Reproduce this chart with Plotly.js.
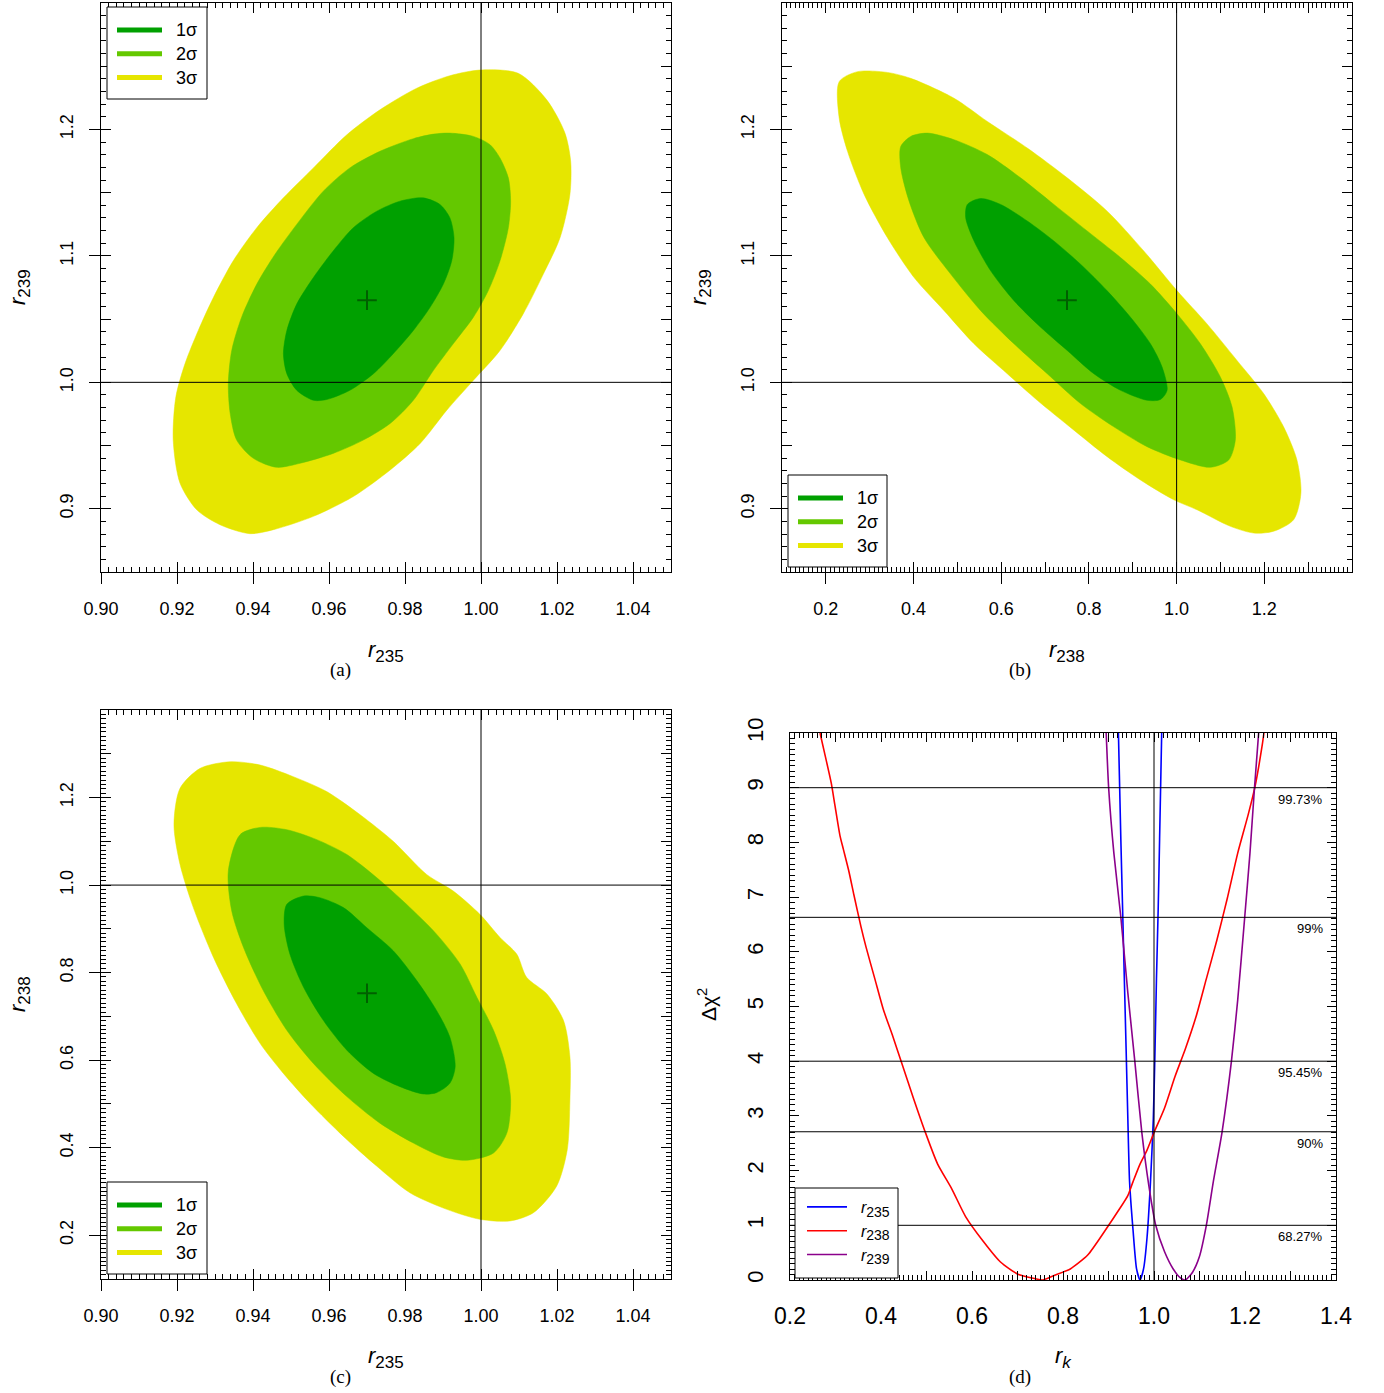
<!DOCTYPE html>
<html>
<head>
<meta charset="utf-8">
<script src="https://cdn.plot.ly/plotly-3.0.1.min.js"></script>
<style>html,body{margin:0;padding:0;background:#fff}#chart{width:1384px;height:1393px}</style>
</head>
<body>
<div id="chart"></div>
<script>
// ---------------- DATA ----------------
// Panel (a): r235 vs r239 confidence regions
const aX3 = [0.9997,1.0098,1.0173,1.0221,1.0236,1.0234,1.0208,1.0164,1.0111,1.0050,0.9980,0.9910,0.9840,0.9761,0.9664,0.9559,0.9454,0.9392,0.9313,0.9252,0.9208,0.9190,0.9197,0.9221,0.9256,0.9296,0.9348,0.9410,0.9480,0.9559,0.9647,0.9734,0.9831,0.9918,0.9997];
const aY3 = [1.2470,1.2444,1.2234,1.1971,1.1748,1.1486,1.1144,1.0856,1.0541,1.0252,1.0016,0.9780,0.9517,0.9307,0.9097,0.8940,0.8835,0.8803,0.8874,0.8992,0.9202,0.9543,0.9885,1.0147,1.0410,1.0672,1.0961,1.1223,1.1459,1.1696,1.1958,1.2155,1.2326,1.2425,1.2470];
const aX2 = [0.9918,0.9980,1.0024,1.0050,1.0072,1.0078,1.0072,1.0050,1.0019,0.9980,0.9927,0.9875,0.9822,0.9761,0.9690,0.9611,0.9524,0.9462,0.9401,0.9357,0.9340,0.9335,0.9344,0.9370,0.9410,0.9458,0.9515,0.9585,0.9655,0.9734,0.9822,0.9875,0.9918];
const aY2 = [1.1971,1.1945,1.1879,1.1774,1.1617,1.1433,1.1223,1.0961,1.0724,1.0515,1.0305,1.0095,0.9858,0.9675,0.9543,0.9438,0.9360,0.9328,0.9399,0.9543,0.9753,0.9990,1.0252,1.0515,1.0777,1.1013,1.1249,1.1512,1.1696,1.1827,1.1927,1.1963,1.1971];
const aX1 = [0.9848,0.9892,0.9918,0.9929,0.9923,0.9901,0.9866,0.9822,0.9769,0.9717,0.9655,0.9594,0.9559,0.9515,0.9489,0.9480,0.9489,0.9515,0.9559,0.9611,0.9664,0.9726,0.9787,0.9848];
const aY1 = [1.1459,1.1407,1.1302,1.1144,1.0961,1.0777,1.0593,1.0410,1.0226,1.0068,0.9937,0.9864,0.9858,0.9937,1.0068,1.0226,1.0410,1.0619,1.0829,1.1039,1.1223,1.1354,1.1433,1.1459];
const aBest = [0.970, 1.065];

// Panel (b): r238 vs r239
const bX3 = [0.2304,0.2721,0.3405,0.3936,0.4923,0.5683,0.6594,0.7505,0.8416,0.9251,1.0011,1.0694,1.1377,1.1985,1.2440,1.2744,1.2835,1.2668,1.2213,1.1757,1.1226,1.0466,0.9935,0.9175,0.8416,0.7657,0.6822,0.6138,0.5379,0.4696,0.4012,0.3405,0.2873,0.2494,0.2304,0.2304];
const bY3 = [1.2378,1.2457,1.2451,1.2404,1.2247,1.2063,1.1853,1.1617,1.1354,1.1039,1.0724,1.0462,1.0173,0.9911,0.9648,0.9386,0.9123,0.8913,0.8822,0.8808,0.8861,0.8992,0.9071,0.9228,0.9412,0.9622,0.9858,1.0068,1.0305,1.0567,1.0829,1.1144,1.1486,1.1827,1.2089,1.2378];
const bX2 = [0.3708,0.3936,0.4316,0.4923,0.5683,0.6442,0.7201,0.7961,0.8720,0.9403,1.0011,1.0542,1.0998,1.1264,1.1339,1.1188,1.0770,1.0087,0.9327,0.8568,0.7809,0.7049,0.6290,0.5531,0.4847,0.4240,0.3898,0.3708,0.3708];
const bY2 = [1.1866,1.1945,1.1971,1.1919,1.1801,1.1617,1.1407,1.1197,1.0987,1.0777,1.0541,1.0305,1.0042,0.9806,0.9543,0.9386,0.9328,0.9386,0.9491,0.9648,0.9832,1.0068,1.0305,1.0567,1.0856,1.1144,1.1433,1.1696,1.1866];
const bX1 = [0.5227,0.5531,0.5986,0.6594,0.7201,0.7809,0.8416,0.8948,0.9403,0.9669,0.9783,0.9631,0.9327,0.8720,0.8112,0.7505,0.6898,0.6290,0.5759,0.5379,0.5189,0.5227];
const bY1 = [1.1407,1.1454,1.1407,1.1276,1.1118,1.0934,1.0724,1.0515,1.0305,1.0121,0.9937,0.9864,0.9858,0.9937,1.0068,1.0252,1.0436,1.0646,1.0882,1.1118,1.1302,1.1407];
const bBest = [0.750, 1.065];

// Panel (c): r235 vs r238
const cX3 = [0.9208,0.9261,0.9340,0.9419,0.9506,0.9594,0.9682,0.9769,0.9857,0.9927,0.9997,1.0050,1.0094,1.0120,1.0173,1.0217,1.0234,1.0234,1.0227,1.0199,1.0138,1.0076,0.9997,0.9910,0.9813,0.9726,0.9638,0.9550,0.9480,0.9419,0.9357,0.9296,0.9243,0.9208,0.9192,0.9208];
const cY3 = [1.2212,1.2667,1.2818,1.2742,1.2477,1.2136,1.1606,1.1000,1.0242,0.9864,0.9333,0.8803,0.8424,0.7894,0.7515,0.6909,0.6076,0.5091,0.3955,0.3121,0.2515,0.2326,0.2364,0.2591,0.2970,0.3576,0.4258,0.5015,0.5697,0.6379,0.7288,0.8348,0.9485,1.0470,1.1379,1.2212];
const cX2 = [0.9366,0.9419,0.9489,0.9568,0.9647,0.9726,0.9804,0.9883,0.9945,0.9989,1.0033,1.0063,1.0078,1.0068,1.0033,0.9962,0.9901,0.9822,0.9734,0.9647,0.9559,0.9489,0.9427,0.9375,0.9344,0.9335,0.9366];
const cY2 = [1.1152,1.1318,1.1265,1.1038,1.0697,1.0167,0.9561,0.8879,0.8197,0.7439,0.6682,0.5924,0.5091,0.4333,0.3879,0.3712,0.3788,0.4106,0.4561,0.5167,0.5924,0.6682,0.7591,0.8576,0.9409,1.0318,1.1152];
const cX1 = [0.9489,0.9533,0.9576,0.9638,0.9699,0.9769,0.9831,0.9883,0.9918,0.9932,0.9918,0.9883,0.9848,0.9787,0.9717,0.9647,0.9585,0.9533,0.9497,0.9482,0.9489];
const cY1 = [0.9561,0.9750,0.9712,0.9485,0.9030,0.8500,0.7818,0.7136,0.6530,0.5848,0.5470,0.5258,0.5227,0.5394,0.5697,0.6227,0.6909,0.7667,0.8424,0.9106,0.9561];
const cBest = [0.970, 0.753];

// Panel (d): delta chi^2 profiles
const r235X = [0.9218,0.9271,0.9310,0.9348,0.9387,0.9425,0.9463,0.9540,0.9617,0.9693,0.9770,0.9847,0.9923,0.9985,1.0023,1.0054,1.0092,1.0123,1.0169];
const r235Y = [10.0,8.061,6.783,5.505,4.227,2.949,1.799,0.905,0.202,0.0,0.202,0.777,1.799,2.949,4.227,5.505,6.783,8.061,10.0];
const r238X = [0.266,0.2753,0.2907,0.2983,0.3098,0.3175,0.3290,0.3405,0.3558,0.3673,0.3865,0.4057,0.4248,0.4479,0.4709,0.4977,0.5245,0.5552,0.5859,0.6242,0.6626,0.7009,0.7393,0.7550,0.7776,0.8160,0.8543,0.8926,0.9233,0.9425,0.9540,0.9693,0.9847,1.0000,1.0230,1.0460,1.0690,1.0920,1.1150,1.1380,1.1610,1.1840,1.2070,1.2220,1.2380,1.2416];
const r238Y = [10.0,9.659,9.083,8.700,8.125,7.869,7.486,7.039,6.464,6.080,5.505,4.930,4.483,3.908,3.333,2.694,2.119,1.671,1.160,0.713,0.329,0.106,0.023,0.0,0.074,0.202,0.457,0.905,1.288,1.543,1.799,2.119,2.374,2.694,3.141,3.716,4.227,4.802,5.505,6.208,6.975,7.805,8.508,9.020,9.786,10.0];
const r239X = [0.8949,0.9003,0.9118,0.9271,0.9425,0.9578,0.9732,0.9885,1.0038,1.0230,1.0422,1.0575,1.0690,1.0844,1.0997,1.1150,1.1304,1.1495,1.1702,1.1840,1.1994,1.2109,1.2209,1.2300];
const r239Y = [10.0,9.0,7.805,6.636,5.250,4.0,2.70,1.735,1.0,0.521,0.202,0.042,0.0,0.138,0.425,1.0,1.799,2.70,4.0,5.122,6.636,7.805,9.0,10.0];

const clLevels = [1, 2.71, 4, 6.63, 9];
const clLabels = ['68.27%', '90%', '95.45%', '99%', '99.73%'];
const sigmaNames = ['1σ', '2σ', '3σ'];
const refValue = 1.0;

// tick label values
const r235Ticks = [0.90, 0.92, 0.94, 0.96, 0.98, 1.00, 1.02, 1.04];
const r235TickText = ['0.90', '0.92', '0.94', '0.96', '0.98', '1.00', '1.02', '1.04'];
const r239Ticks = [0.9, 1.0, 1.1, 1.2];
const r239TickText = ['0.9', '1.0', '1.1', '1.2'];
const r238Ticks = [0.2, 0.4, 0.6, 0.8, 1.0, 1.2];
const r238TickText = ['0.2', '0.4', '0.6', '0.8', '1.0', '1.2'];
const rkTicks = [0.2, 0.4, 0.6, 0.8, 1.0, 1.2, 1.4];
const rkTickText = ['0.2', '0.4', '0.6', '0.8', '1.0', '1.2', '1.4'];
const chiTicks = [0, 1, 2, 3, 4, 5, 6, 7, 8, 9, 10];
const chiTickText = ['0', '1', '2', '3', '4', '5', '6', '7', '8', '9', '10'];

// ---------------- STYLE ----------------
const W = 1384, H = 1393;
const SANS = 'Liberation Sans, Arial, Helvetica, sans-serif';
const SERIF = 'Liberation Serif, DejaVu Serif, serif';
const C1 = '#00a000', C2 = '#64c800', C3 = '#e6e600';
const sigmaColors = [C1, C2, C3];
const NB = '\u00a0\u00a0';

function dx(p){ return p / W; }
function dy(p){ return 1 - p / H; }

const traces = [];
function region(xs, ys, color, xa, ya){
  traces.push({type:'scatter', mode:'lines', x:xs, y:ys, xaxis:xa, yaxis:ya,
    fill:'toself', fillcolor:color, line:{color:color, width:0.5, shape:'spline', smoothing:0.8},
    showlegend:false, hoverinfo:'skip'});
}
function best(pt, xa, ya){
  traces.push({type:'scatter', mode:'markers', x:[pt[0]], y:[pt[1]], xaxis:xa, yaxis:ya,
    marker:{symbol:'cross-thin', size:14, line:{color:'#006000', width:2}}, showlegend:false, hoverinfo:'skip'});
}
function legendEntries(xa, ya, lg){
  for (let i = 0; i < 3; i++){
    traces.push({type:'scatter', mode:'lines', x:[null], y:[null], xaxis:xa, yaxis:ya,
      name:NB + '<span style="font-size:18px">' + sigmaNames[i] + '</span>', legend:lg,
      line:{color:sigmaColors[i], width:5}, hoverinfo:'skip'});
  }
}

// panel a
region(aX3, aY3, C3, 'x', 'y'); region(aX2, aY2, C2, 'x', 'y'); region(aX1, aY1, C1, 'x', 'y'); best(aBest, 'x', 'y');
legendEntries('x5', 'y5', 'legend');
// panel b
region(bX3, bY3, C3, 'x2', 'y2'); region(bX2, bY2, C2, 'x2', 'y2'); region(bX1, bY1, C1, 'x2', 'y2'); best(bBest, 'x2', 'y2');
legendEntries('x6', 'y6', 'legend2');
// panel c
region(cX3, cY3, C3, 'x3', 'y3'); region(cX2, cY2, C2, 'x3', 'y3'); region(cX1, cY1, C1, 'x3', 'y3'); best(cBest, 'x3', 'y3');
legendEntries('x7', 'y7', 'legend3');
// panel d
function rsub(s){ return NB + '<i>r</i><sub><span style="font-size:14px">' + s + '</span></sub>'; }
const dCurves = [
  {x:r235X, y:r235Y, c:'#0000ff', n:rsub('235')},
  {x:r238X, y:r238Y, c:'#ff0000', n:rsub('238')},
  {x:r239X, y:r239Y, c:'#8b008b', n:rsub('239')}
];
dCurves.forEach(function(d){
  traces.push({type:'scatter', mode:'lines', x:d.x, y:d.y, xaxis:'x4', yaxis:'y4', name:d.n, legend:'legend4',
    line:{color:d.c, width:1.6, shape:'spline', smoothing:0.6}, hoverinfo:'skip'});
});
// anchor trace for overlay label axes of d
traces.push({type:'scatter', mode:'lines', x:[null], y:[null], xaxis:'x8', yaxis:'y8', showlegend:false, hoverinfo:'skip'});

// ---------------- AXES ----------------
function inner(o, minorDtick, minorTick0){
  return Object.assign({showgrid:false, zeroline:false, showline:true, linecolor:'black', linewidth:1.3,
    mirror:'allticks', ticks:'inside', ticklen:10, tickcolor:'black', tickwidth:1, showticklabels:false,
    minor:{ticks:'inside', ticklen:5, dtick:minorDtick, tick0:minorTick0, tickcolor:'black', tickwidth:1, showgrid:false}}, o);
}
function outer(o, size){
  return Object.assign({showgrid:false, zeroline:false, showline:false, ticks:'outside', ticklen:11,
    tickcolor:'black', tickwidth:1, tickmode:'array', tickfont:{family:SANS, size:size, color:'black'}}, o);
}
const dA = {x:[dx(101), dx(671)], y:[dy(572), dy(3)]};
const dB = {x:[dx(782), dx(1352)], y:[dy(572), dy(3)]};
const dC = {x:[dx(101), dx(671)], y:[dy(1279), dy(710)]};
const dD = {x:[dx(790), dx(1336)], y:[dy(1280), dy(733)]};

const layout = {
  width:W, height:H, margin:{l:0, r:0, t:0, b:0}, paper_bgcolor:'white', plot_bgcolor:'rgba(0,0,0,0)',
  font:{family:SANS, color:'black'}, showlegend:true,
  // panel a
  xaxis: inner({domain:dA.x, anchor:'y', range:[0.9, 1.05], dtick:0.02, tick0:0.9}, 0.002, 0.9),
  yaxis: inner({domain:dA.y, anchor:'x', range:[0.85, 1.3], dtick:0.05, tick0:0.85}, 0.01, 0.85),
  xaxis5: outer({overlaying:'x', anchor:'y5', side:'bottom', range:[0.9, 1.05], tickvals:r235Ticks, ticktext:r235TickText, ticklabelstandoff:9}, 18),
  yaxis5: outer({overlaying:'y', anchor:'x5', side:'left', range:[0.85, 1.3], tickvals:r239Ticks, ticktext:r239TickText, tickangle:-90, ticklabelstandoff:9}, 18),
  // panel b
  xaxis2: inner({domain:dB.x, anchor:'y2', range:[0.1, 1.4], dtick:0.1, tick0:0.1}, 0.01, 0.1),
  yaxis2: inner({domain:dB.y, anchor:'x2', range:[0.85, 1.3], dtick:0.05, tick0:0.85}, 0.01, 0.85),
  xaxis6: outer({overlaying:'x2', anchor:'y6', side:'bottom', range:[0.1, 1.4], tickvals:r238Ticks, ticktext:r238TickText, ticklabelstandoff:9}, 18),
  yaxis6: outer({overlaying:'y2', anchor:'x6', side:'left', range:[0.85, 1.3], tickvals:r239Ticks, ticktext:r239TickText, tickangle:-90, ticklabelstandoff:9}, 18),
  // panel c
  xaxis3: inner({domain:dC.x, anchor:'y3', range:[0.9, 1.05], dtick:0.02, tick0:0.9}, 0.002, 0.9),
  yaxis3: inner({domain:dC.y, anchor:'x3', range:[0.1, 1.4], dtick:0.1, tick0:0.1}, 0.01, 0.1),
  xaxis7: outer({overlaying:'x3', anchor:'y7', side:'bottom', range:[0.9, 1.05], tickvals:r235Ticks, ticktext:r235TickText, ticklabelstandoff:9}, 18),
  yaxis7: outer({overlaying:'y3', anchor:'x7', side:'left', range:[0.1, 1.4], tickvals:r238Ticks, ticktext:r238TickText, tickangle:-90, ticklabelstandoff:9}, 18),
  // panel d
  xaxis4: inner({domain:dD.x, anchor:'y4', range:[0.2, 1.4], dtick:0.1, tick0:0.2, ticklen:9}, 0.01, 0.2),
  yaxis4: inner({domain:dD.y, anchor:'x4', range:[0, 10], dtick:1, tick0:0, ticklen:9}, 0.1, 0),
  xaxis8: outer({overlaying:'x4', anchor:'y8', side:'bottom', range:[0.2, 1.4], tickvals:rkTicks, ticktext:rkTickText, ticks:'', ticklabelstandoff:20}, 23),
  yaxis8: outer({overlaying:'y4', anchor:'x8', side:'left', range:[0, 10], tickvals:chiTicks, ticktext:chiTickText, tickangle:-90, ticks:'', ticklabelstandoff:22}, 22),
  shapes: [], annotations: []
};

// legends: transparent Plotly legends placed inside drawn white boxes
const legBase = {bgcolor:'rgba(0,0,0,0)', borderwidth:0, xanchor:'left', yanchor:'top',
  font:{family:SANS, size:16, color:'black'}, itemwidth:45, tracegroupgap:0, orientation:'v'};
layout.legend  = Object.assign({}, legBase, {x:dx(112), y:dy(13)});
layout.legend2 = Object.assign({}, legBase, {x:dx(793), y:dy(481)});
layout.legend3 = Object.assign({}, legBase, {x:dx(112), y:dy(1188)});
layout.legend4 = Object.assign({}, legBase, {x:dx(802), y:dy(1190), itemwidth:40});
function legendBox(x0, y0, x1, y1){
  layout.shapes.push({type:'rect', xref:'paper', yref:'paper', x0:dx(x0), x1:dx(x1), y0:dy(y1), y1:dy(y0),
    fillcolor:'white', line:{color:'black', width:1}, layer:'above'});
}

// reference lines at 1 in panels a-c
[['x','y'],['x2','y2'],['x3','y3']].forEach(function(p){
  layout.shapes.push({type:'line', xref:p[0], yref:p[1]+' domain', x0:refValue, x1:refValue, y0:0, y1:1, line:{color:'black', width:1}});
  layout.shapes.push({type:'line', xref:p[0]+' domain', yref:p[1], x0:0, x1:1, y0:refValue, y1:refValue, line:{color:'black', width:1}});
});
// panel d reference lines
layout.shapes.push({type:'line', xref:'x4', yref:'y4 domain', x0:refValue, x1:refValue, y0:0, y1:1, line:{color:'black', width:1}});
clLevels.forEach(function(v, i){
  layout.shapes.push({type:'line', xref:'x4 domain', yref:'y4', x0:0, x1:1, y0:v, y1:v, line:{color:'black', width:1}});
  layout.annotations.push({xref:'x4', yref:'y4', x:1.376, y:v, xanchor:'right', yanchor:'top', yshift:-2,
    text:clLabels[i], showarrow:false, font:{family:SANS, size:13, color:'black'}});
});
legendBox(107, 7, 207, 99);
legendBox(788, 475, 887, 567);
legendBox(107, 1182, 207, 1274);
legendBox(795, 1188, 898, 1278);

// axis titles & captions
function sub(base, s){ return '<i>' + base + '</i><sub><span style="font-size:17px">' + s + '</span></sub>'; }
function ann(x, y, text, size, angle, fam){
  layout.annotations.push({xref:'paper', yref:'paper', x:dx(x), y:dy(y), xanchor:'center', yanchor:'middle',
    text:text, showarrow:false, textangle:angle||0, font:{family:fam||SANS, size:size, color:'black'}});
}
ann(386, 651, sub('r','235'), 22);
ann(1067, 651, sub('r','238'), 22);
ann(386, 1357, sub('r','235'), 22);
ann(1063, 1357, '<i>r</i><sub><span style="font-size:17px"><i>k</i></span></sub>', 22);
ann(19, 287, sub('r','239'), 22, -90);
ann(700, 287, sub('r','239'), 22, -90);
ann(19, 994, sub('r','238'), 22, -90);
ann(707, 1005, 'Δχ<sup>2</sup>', 21, -90);
ann(340, 670, '(a)', 19, 0, SERIF);
ann(1020, 670, '(b)', 19, 0, SERIF);
ann(340, 1377, '(c)', 19, 0, SERIF);
ann(1020, 1377, '(d)', 19, 0, SERIF);

Plotly.newPlot('chart', traces, layout, {staticPlot:true, displayModeBar:false});
</script>
</body>
</html>
